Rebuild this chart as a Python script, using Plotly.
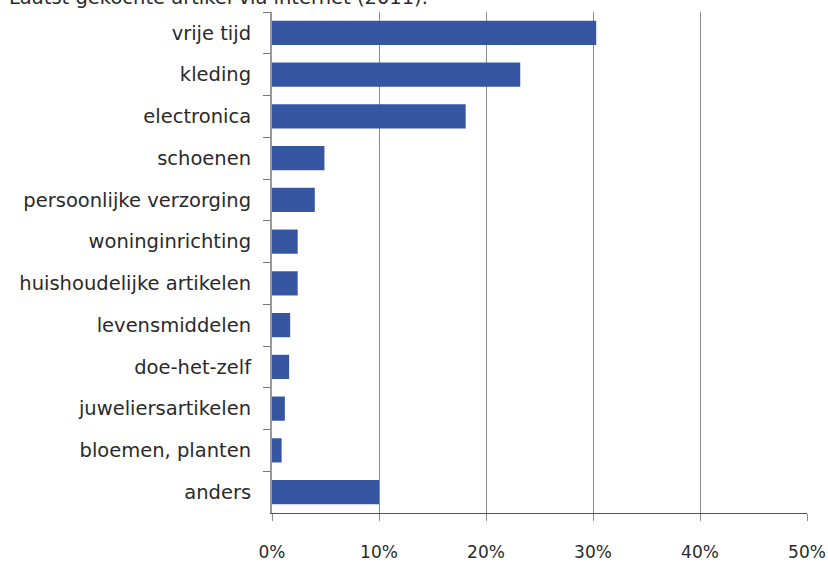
import plotly.graph_objects as go

# Laatst gekochte artikel via internet (2011), aandeel in %
categories = [
    "vrije tijd", "kleding", "electronica", "schoenen",
    "persoonlijke verzorging", "woninginrichting", "huishoudelijke artikelen",
    "levensmiddelen", "doe-het-zelf", "juweliersartikelen",
    "bloemen, planten", "anders",
]
shares = [30.3, 23.2, 18.1, 4.9, 4.0, 2.4, 2.4, 1.7, 1.6, 1.2, 0.9, 10.0]
x_ticks = [0, 10, 20, 30, 40, 50]
x_tick_labels = ["0%", "10%", "20%", "30%", "40%", "50%"]
title_text = "Laatst gekochte artikel via internet (2011)."

FONT = "DejaVu Sans, Verdana, sans-serif"
TEXT_COLOR = "#2a2a2a"

fig = go.Figure(
    go.Bar(
        x=shares,
        y=categories,
        orientation="h",
        marker=dict(color="#3656a2", line=dict(width=0)),
        width=0.58,
    )
)

fig.update_layout(
    width=828,
    height=563,
    margin=dict(l=272, r=21, t=12, b=50),
    paper_bgcolor="white",
    plot_bgcolor="white",
    showlegend=False,
    font=dict(family=FONT, size=19.5, color=TEXT_COLOR),
    annotations=[
        dict(
            text=title_text,
            xref="paper", yref="paper",
            x=0, y=1,
            xshift=-265,
            yshift=1,
            xanchor="left", yanchor="bottom",
            showarrow=False,
            font=dict(family=FONT, size=19.5, color=TEXT_COLOR),
        )
    ],
)

fig.update_xaxes(
    range=[0, 50],
    tickvals=x_ticks,
    ticktext=x_tick_labels,
    showgrid=True,
    gridcolor="#8c8c8c",
    gridwidth=1,
    showline=True,
    linecolor="#555555",
    linewidth=1,
    ticks="outside",
    ticklen=7,
    tickcolor="#8c8c8c",
    ticklabelstandoff=17,
    automargin=False,
    zeroline=False,
    tickfont=dict(size=17, color=TEXT_COLOR),
)

fig.update_yaxes(
    categoryorder="array",
    categoryarray=categories,
    autorange="reversed",
    tickson="boundaries",
    ticks="outside",
    ticklen=7,
    tickcolor="#777777",
    showline=True,
    linecolor="#999999",
    linewidth=2,
    showgrid=False,
    ticklabelstandoff=15,
    automargin=False,
    tickfont=dict(size=19.5, color=TEXT_COLOR),
)

fig.write_html("out.html")
